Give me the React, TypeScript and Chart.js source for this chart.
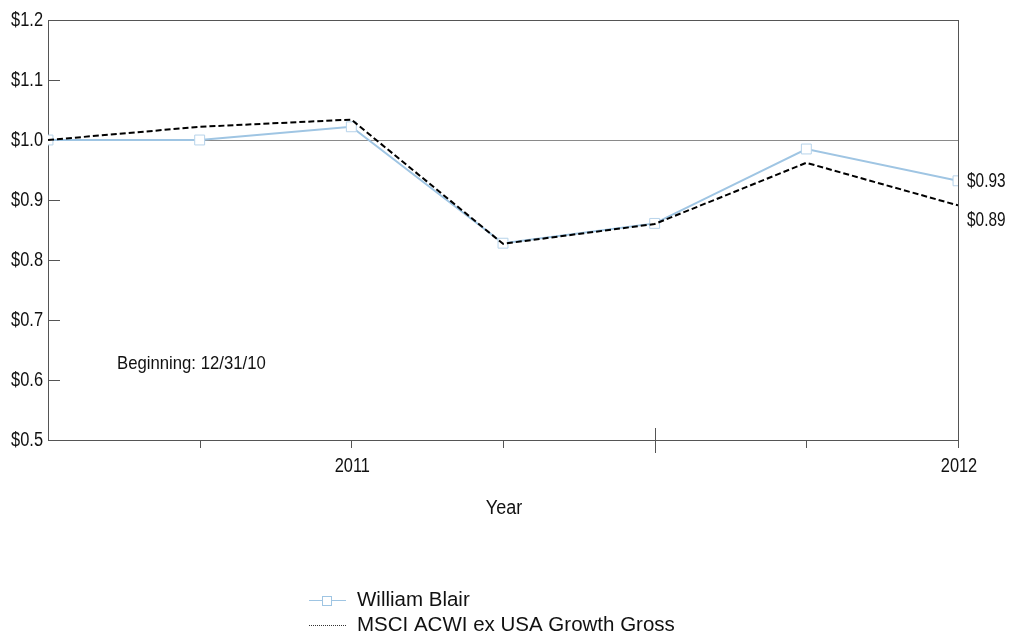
import React, { useEffect, useRef } from "react";
import { Chart, registerables } from "chart.js";

Chart.register(...registerables);

const periods = [0, 1, 2, 3, 4, 5, 6];
const williamBlair = [1.0, 1.0, 1.022, 0.828, 0.861, 0.985, 0.932];
const msci = [1.0, 1.022, 1.034, 0.827, 0.86, 0.962, 0.891];
const yTicks = [0.5, 0.6, 0.7, 0.8, 0.9, 1.0, 1.1, 1.2];
const xLabels: { at: number; text: string }[] = [
  { at: 2, text: "2011" },
  { at: 6, text: "2012" },
];
const seriesNames = ["William Blair", "MSCI ACWI ex USA Growth Gross"];
const endLabels = ["$0.93", "$0.89"];

const FONT = '"Liberation Sans", Arial, sans-serif';
const BLUE = "#9fc5e3";
const AXIS = "#555555";

function narrowText(ctx: any, text: string, x: number, y: number, size: number, sx: number, align: string) {
  ctx.save();
  ctx.font = `${size}px ${FONT}`;
  ctx.textBaseline = "middle";
  ctx.textAlign = "left";
  const w = ctx.measureText(text).width * sx;
  let left = x;
  if (align === "center") left = x - w / 2;
  else if (align === "right") left = x - w;
  ctx.translate(left, y);
  ctx.scale(sx, 1);
  ctx.fillText(text, 0, 0);
  ctx.restore();
}

export default function App() {
  const ref = useRef<HTMLCanvasElement | null>(null);
  useEffect(() => {
    if (!ref.current) return;
    const overlay = {
      id: "overlay",
      beforeDatasetsDraw(chart: any) {
        const ctx = chart.ctx;
        const x = chart.scales.x;
        const y = chart.scales.y;
        const ca = chart.chartArea;
        ctx.save();
        ctx.strokeStyle = "#8a8a8a";
        ctx.lineWidth = 1;
        const y1 = Math.round(y.getPixelForValue(1.0)) + 0.5;
        ctx.beginPath();
        ctx.moveTo(ca.left, y1);
        ctx.lineTo(ca.right, y1);
        ctx.stroke();
        ctx.strokeStyle = AXIS;
        ctx.lineWidth = 1;
        ctx.strokeRect(Math.round(ca.left) + 0.5, Math.round(ca.top) + 0.5, Math.round(ca.right - ca.left), Math.round(ca.bottom - ca.top));
        ctx.fillStyle = "#111";
        yTicks.forEach((v) => {
          const py = Math.round(y.getPixelForValue(v)) + 0.5;
          if (v > 0.5 && v < 1.2) {
            ctx.beginPath();
            ctx.moveTo(ca.left, py);
            ctx.lineTo(ca.left + 12, py);
            ctx.stroke();
          }
          narrowText(ctx, "$" + v.toFixed(1), ca.left - 5, py, 20, 0.82, "right");
        });
        periods.forEach((p) => {
          if (p === 0) return;
          const px = Math.round(x.getPixelForValue(p)) + 0.5;
          ctx.beginPath();
          if (p === 4) {
            ctx.moveTo(px, ca.bottom - 12);
            ctx.lineTo(px, ca.bottom + 13);
          } else {
            ctx.moveTo(px, ca.bottom);
            ctx.lineTo(px, ca.bottom + 8);
          }
          ctx.stroke();
        });
        xLabels.forEach((l) => {
          narrowText(ctx, l.text, x.getPixelForValue(l.at) + 1, ca.bottom + 26, 20, 0.82, "center");
        });
        narrowText(ctx, "Year", (ca.left + ca.right) / 2 + 1, ca.bottom + 68, 20, 0.9, "center");
        narrowText(ctx, "Beginning: 12/31/10", 117, 364, 19, 0.88, "left");
        ctx.restore();
      },
      afterDatasetsDraw(chart: any) {
        const ctx = chart.ctx;
        const x = chart.scales.x;
        const y = chart.scales.y;
        ctx.save();
        ctx.fillStyle = "#111";
        const last = periods.length - 1;
        const ex = x.getPixelForValue(periods[last]) + 9;
        narrowText(ctx, endLabels[0], ex, y.getPixelForValue(williamBlair[last]) + 1, 20, 0.77, "left");
        narrowText(ctx, endLabels[1], ex, y.getPixelForValue(msci[last]) + 15, 20, 0.77, "left");
        // legend
        ctx.strokeStyle = BLUE;
        ctx.lineWidth = 1;
        ctx.beginPath();
        ctx.moveTo(309, 600.5);
        ctx.lineTo(346, 600.5);
        ctx.stroke();
        ctx.fillStyle = "#fff";
        ctx.fillRect(322.5, 596.5, 9, 9);
        ctx.strokeRect(322.5, 596.5, 9, 9);
        ctx.strokeStyle = "#333";
        ctx.setLineDash([1, 1]);
        ctx.beginPath();
        ctx.moveTo(309, 625.5);
        ctx.lineTo(346, 625.5);
        ctx.stroke();
        ctx.setLineDash([]);
        ctx.fillStyle = "#111";
        narrowText(ctx, seriesNames[0], 357, 600, 20.5, 1, "left");
        narrowText(ctx, seriesNames[1], 357, 625, 20.5, 1, "left");
        ctx.restore();
      },
    };
    const chart = new Chart(ref.current, {
      type: "line",
      data: {
        datasets: [
          {
            label: seriesNames[1],
            data: periods.map((p, i) => ({ x: p, y: msci[i] })),
            borderColor: "#000",
            borderWidth: 2,
            borderDash: [6, 3],
            pointRadius: 0,
            fill: false,
            tension: 0,
          },
          {
            label: seriesNames[0],
            data: periods.map((p, i) => ({ x: p, y: williamBlair[i] })),
            borderColor: BLUE,
            borderWidth: 2,
            pointStyle: "rect",
            pointRadius: 7,
            pointBackgroundColor: "#fff",
            pointBorderColor: "#b7d3ea",
            pointBorderWidth: 1,
            fill: false,
            tension: 0,
          },
        ],
      },
      options: {
        animation: false,
        responsive: false,
        events: [],
        layout: { padding: { left: 48, top: 20, right: 55, bottom: 195 } },
        plugins: { legend: { display: false }, tooltip: { enabled: false } },
        scales: {
          x: { type: "linear", min: 0, max: 6, display: false },
          y: { type: "linear", min: 0.5, max: 1.2, display: false },
        },
      },
      plugins: [overlay],
    });
    return () => chart.destroy();
  }, []);
  return (
    <div style={{ position: "fixed", left: 0, top: 0, width: 1013, height: 635, background: "#fff" }}>
      <canvas ref={ref} width={1013} height={635} style={{ display: "block" }} />
    </div>
  );
}
